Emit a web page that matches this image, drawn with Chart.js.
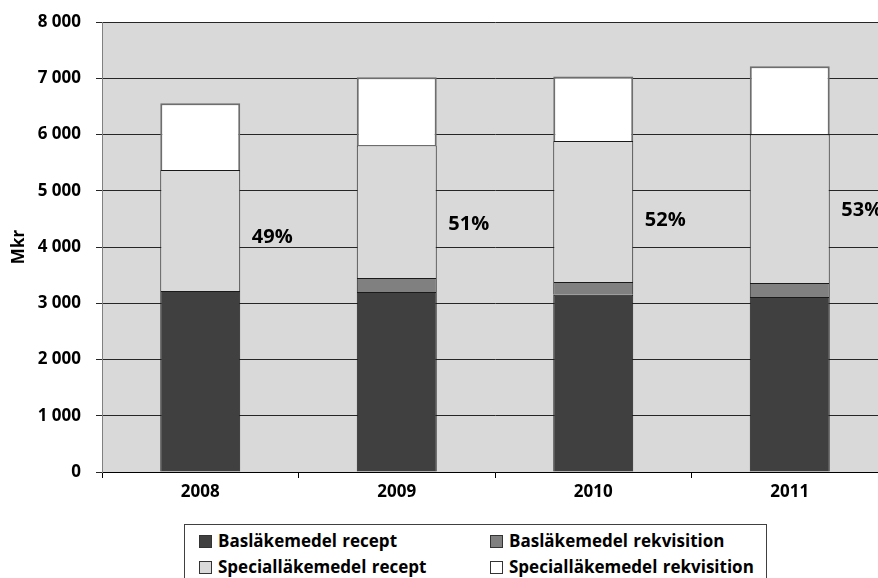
<!DOCTYPE html>
<html lang="sv">
<head>
<meta charset="UTF-8">
<script src="https://cdn.jsdelivr.net/npm/chart.js"></script>
<title>Läkemedelskostnader 2008-2011</title>
<style>
    html, body {
        margin: 0;
        padding: 0;
        background: #ffffff;
        overflow: hidden;
        width: 878px;
        height: 578px;
    }
    #wrap {
        position: absolute;
        left: 0;
        top: 0;
        width: 890px;
        height: 513px;
    }
    #legend {
        position: absolute;
        left: 184px;
        top: 524px;
        width: 581px;
        height: 60px;
        border: 1px solid #404040;
        background: #ffffff;
        font-family: 'Open Sans', sans-serif;
        font-weight: bold;
        font-size: 17px;
        color: #000;
    }
    .item {
        position: absolute;
        height: 20px;
        line-height: 20px;
        white-space: nowrap;
        word-spacing: 1px;
    }
    .item span.box {
        display: inline-block;
        width: 11px;
        height: 11px;
        border: 1px solid #333;
        margin-right: 6px;
        vertical-align: -1px;
    }
</style>
</head>
<body>
<div id="wrap"><canvas id="chart" width="890" height="513"></canvas></div>
<div id="legend"></div>

<script>
// år och värden i Mkr
const years = ['2008', '2009', '2010', '2011'];
const basRecept = [3220, 3200, 3150, 3110];
const basRekvisition = [0, 250, 230, 250];
const specRecept = [2150, 2360, 2505, 2645];
const specRekvisition = [1185, 1210, 1145, 1210];
const andelSpecial = ['49%', '51%', '52%', '53%'];
const yTicks = [0, 1000, 2000, 3000, 4000, 5000, 6000, 7000, 8000];

// var procenttexten står (i Mkr på y-axeln)
const andelY = [4180, 4410, 4480, 4660];

const font = { family: '"Open Sans", sans-serif', weight: 'bold', size: 17 };

// grå bakgrund i diagramytan
const plotBg = {
    id: 'plotBg',
    beforeDraw(chart) {
        const a = chart.chartArea, ctx = chart.ctx;
        ctx.save();
        ctx.fillStyle = '#d9d9d9';
        ctx.fillRect(a.left, a.top, a.right - a.left, a.bottom - a.top);
        ctx.restore();
    }
};

// procentandelar till höger om varje stapel
const andelText = {
    id: 'andelText',
    afterDatasetsDraw(chart) {
        const ctx = chart.ctx, x = chart.scales.x, y = chart.scales.y;
        ctx.save();
        ctx.font = 'bold 20px "Open Sans", sans-serif';
        ctx.fillStyle = '#000';
        ctx.textAlign = 'center';
        ctx.textBaseline = 'middle';
        andelSpecial.forEach((t, i) => {
            ctx.fillText(t, x.getPixelForValue(i) + 72, y.getPixelForValue(andelY[i]));
        });
        ctx.restore();
    }
};

const datasets = [
    { label: 'Basläkemedel recept', data: basRecept, backgroundColor: '#404040', borderColor: '#1a1a1a' },
    { label: 'Basläkemedel rekvisition', data: basRekvisition, backgroundColor: '#808080', borderColor: '#1a1a1a' },
    { label: 'Specialläkemedel recept', data: specRecept, backgroundColor: '#d9d9d9', borderColor: '#1a1a1a' },
    { label: 'Specialläkemedel rekvisition', data: specRekvisition, backgroundColor: '#ffffff', borderColor: '#6e6e6e', borderWidth: 2 }
];

const chart = new Chart(document.getElementById('chart'), {
    type: 'bar',
    data: {
        labels: years,
        datasets: datasets.map(d => Object.assign({ borderWidth: 1, categoryPercentage: 1, barPercentage: 0.407 }, d))
    },
    plugins: [plotBg, andelText],
    options: {
        responsive: false,
        animation: false,
        layout: { padding: { top: 22, right: 2, left: 9, bottom: 0 } },
        plugins: {
            legend: { display: false },
            tooltip: { enabled: false }
        },
        scales: {
            x: {
                stacked: true,
                offset: true,
                afterFit(s) { s.height = 41; s.paddingLeft = 0; s.paddingRight = 0; },
                grid: { offset: true, drawOnChartArea: false, tickLength: 6, color: '#000' },
                border: { color: '#000', width: 1 },
                ticks: { color: '#000', font: font, padding: 4 }
            },
            y: {
                stacked: true,
                min: 0,
                max: 8000,
                afterFit(s) { s.width = 93; s.paddingTop = 0; s.paddingBottom = 0; },
                afterBuildTicks(s) { s.ticks = yTicks.map(v => ({ value: v })); },
                title: { display: true, text: 'Mkr', color: '#000', font: font, padding: 0 },
                grid: { color: '#262626', tickLength: 6 },
                border: { color: '#808080', width: 1 },
                ticks: {
                    color: '#000',
                    font: font,
                    padding: 15,
                    callback: v => v >= 1000 ? Math.floor(v / 1000) + ' 000' : String(v)
                }
            }
        }
    }
});

// förklaring i två kolumner med ram
const legend = document.getElementById('legend');
const pos = [[14, 6], [305, 6], [14, 32], [305, 32]];
chart.data.datasets.forEach((d, i) => {
    const el = document.createElement('div');
    el.className = 'item';
    el.style.left = pos[i][0] + 'px';
    el.style.top = pos[i][1] + 'px';
    const box = document.createElement('span');
    box.className = 'box';
    box.style.background = d.backgroundColor;
    el.appendChild(box);
    el.appendChild(document.createTextNode(d.label));
    legend.appendChild(el);
});
</script>
</body>
</html>
